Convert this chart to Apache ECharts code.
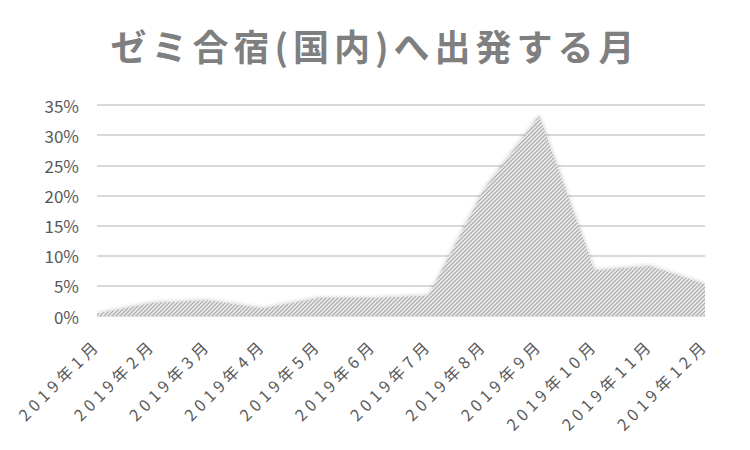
<!DOCTYPE html>
<html><head><meta charset="utf-8">
<script src="https://cdn.jsdelivr.net/npm/echarts@6/dist/echarts.min.js"></script>
<style>html,body{margin:0;padding:0;background:#fff}#c{width:750px;height:450px}</style>
</head><body><div id="c"></div>
<script>
const titleText = 'ゼミ合宿(国内)へ出発する月';
const categories = ['2019年1月','2019年2月','2019年3月','2019年4月','2019年5月','2019年6月','2019年7月','2019年8月','2019年9月','2019年10月','2019年11月','2019年12月'];
const shares = [0.4, 2.2, 2.6, 1.3, 3.0, 3.0, 3.4, 21.0, 33.2, 7.6, 8.3, 5.3];
const yTicks = [0, 5, 10, 15, 20, 25, 30, 35];

function makePattern(){
  const c = document.createElement('canvas');
  c.width = 4; c.height = 4;
  const g = c.getContext('2d');
  g.fillStyle = '#e9e9e9'; g.fillRect(0,0,4,4);
  g.strokeStyle = '#a8a8a8'; g.lineWidth = 1.1;
  g.beginPath();
  g.moveTo(-1,5); g.lineTo(5,-1);
  g.moveTo(-1,1); g.lineTo(1,-1);
  g.moveTo(3,5); g.lineTo(5,3);
  g.stroke();
  return c;
}

const chart = echarts.init(document.getElementById('c'), null, {renderer:'svg'});
chart.setOption({
  animation:false,
  title:{text:titleText,left:'center',top:22,
    textStyle:{fontFamily:'Noto Sans CJK JP',fontWeight:'bold',fontSize:36,color:'#7f7f7f'}},
  grid:{left:97,right:45,top:105,bottom:134},
  xAxis:{type:'category',data:categories,boundaryGap:false,
    axisLine:{show:false},axisTick:{show:false},
    axisLabel:{rotate:45,interval:0,fontFamily:'Noto Sans CJK JP',fontSize:16,color:'#595959',margin:25}},
  yAxis:{type:'value',min:0,max:35,interval:5,
    axisLine:{show:false},axisTick:{show:false},
    axisLabel:{formatter:v=>yTicks.includes(v)?v+'%':'',fontFamily:'Noto Sans CJK JP',fontSize:17,color:'#595959',margin:18},
    splitLine:{lineStyle:{color:'#d9d9d9',width:2}}},
  series:[{type:'line',data:shares,symbol:'none',
    lineStyle:{width:0},
    areaStyle:{color:{image:makePattern(),repeat:'repeat'},opacity:1,
      shadowBlur:4,shadowColor:'rgba(0,0,0,0.25)'}}]
});

function spaceText(){
  document.querySelectorAll('#c text').forEach(t=>{
    const s = t.textContent;
    if (s === titleText) t.style.letterSpacing = '5px';
    else if (categories.includes(s)) t.style.letterSpacing = '4.5px';
  });
}
spaceText();
chart.on('finished', spaceText);
setTimeout(spaceText, 50);
</script></body></html>
